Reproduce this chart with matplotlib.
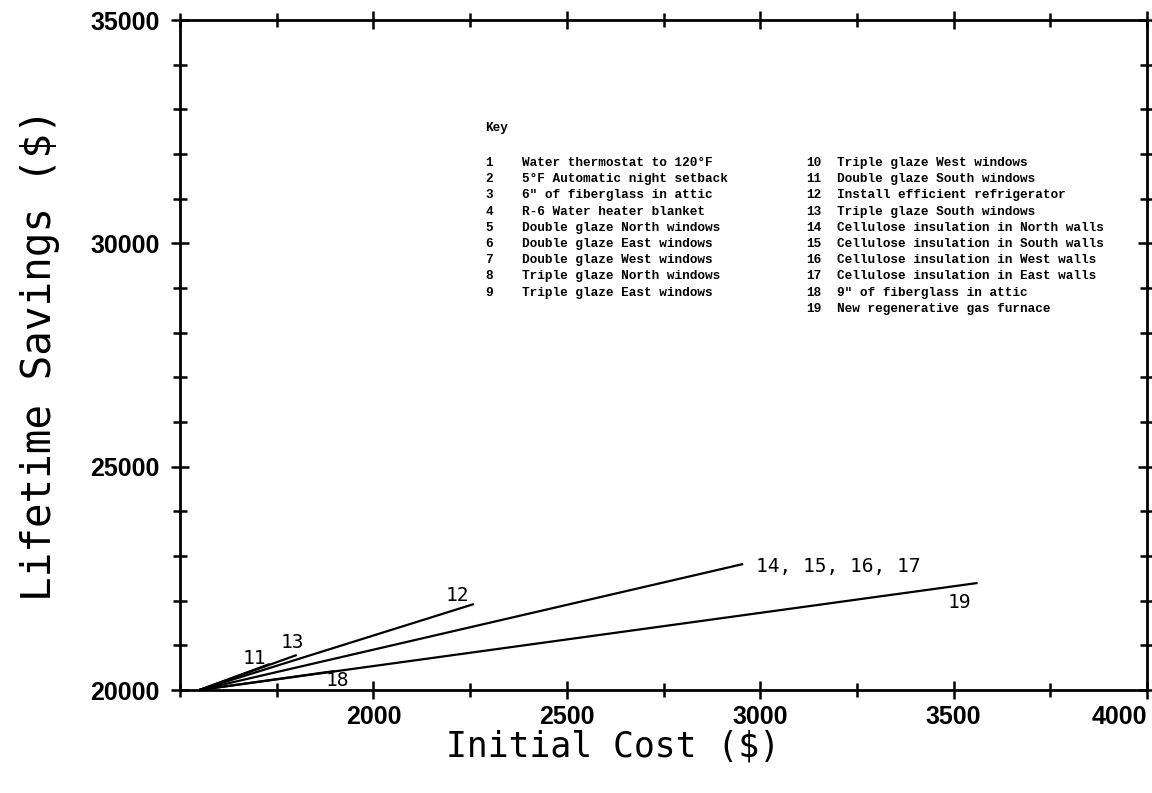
import matplotlib
matplotlib.use("Agg")
import matplotlib.pyplot as plt
from matplotlib.ticker import MultipleLocator

# common starting point (measures 1-10 combined)
base_cost = 1550
base_savings = 20000

# end points of each measure
labels = ["11", "13", "12", "14, 15, 16, 17", "18", "19"]
end_cost = [1732, 1802, 2260, 2956, 1900, 3562]
end_savings = [20582, 20784, 21925, 22821, 20425, 22396]

# label offsets from the line end (points) and alignment
label_offsets = [(-11, 4), (-3, 9), (-12, 6), (9, -2), (2, -7), (-13, -14)]
label_ha = ["center", "center", "center", "left", "center", "center"]

key_left = [
    "Water thermostat to 120°F",
    "5°F Automatic night setback",
    "6\" of fiberglass in attic",
    "R-6 Water heater blanket",
    "Double glaze North windows",
    "Double glaze East windows",
    "Double glaze West windows",
    "Triple glaze North windows",
    "Triple glaze East windows",
]
key_right = [
    "Triple glaze West windows",
    "Double glaze South windows",
    "Install efficient refrigerator",
    "Triple glaze South windows",
    "Cellulose insulation in North walls",
    "Cellulose insulation in South walls",
    "Cellulose insulation in West walls",
    "Cellulose insulation in East walls",
    "9\" of fiberglass in attic",
    "New regenerative gas furnace",
]

W, H = 1152, 793
fig = plt.figure(figsize=(W / 100, H / 100), dpi=100)
ax = fig.add_axes([180 / W, 1 - 690 / H, (1147 - 180) / W, (690 - 20) / H])

for c, s in zip(end_cost, end_savings):
    ax.plot([base_cost, c], [base_savings, s], color="black", lw=1.6,
            solid_capstyle="butt")

lab_font = dict(family=["DejaVu Sans Mono"], size=14)
for lab, c, s, off, ha in zip(labels, end_cost, end_savings, label_offsets, label_ha):
    ax.annotate(lab, (c, s), xytext=off, textcoords="offset points",
                ha=ha, va="center", **lab_font)

ax.set_xlim(1500, 4000)
ax.set_ylim(20000, 35000)
ax.xaxis.set_major_locator(MultipleLocator(500))
ax.xaxis.set_minor_locator(MultipleLocator(250))
ax.yaxis.set_major_locator(MultipleLocator(5000))
ax.yaxis.set_minor_locator(MultipleLocator(1000))

for sp in ax.spines.values():
    sp.set_linewidth(2)

ax.tick_params(which="both", direction="inout", top=True, right=True,
               width=1.8, labelsize=16)
ax.tick_params(which="major", length=13, pad=4)
ax.tick_params(axis="y", which="major", pad=8)
ax.tick_params(which="minor", length=10)

tick_font = ["Liberation Sans Narrow", "Liberation Sans", "DejaVu Sans"]
xt = [2000, 2500, 3000, 3500, 4000]
ax.set_xticks(xt)
ax.set_xticklabels([str(v) for v in xt])
yt = [20000, 25000, 30000, 35000]
ax.set_yticks(yt)
ax.set_yticklabels([str(v) for v in yt])
for t in ax.get_xticklabels() + ax.get_yticklabels():
    t.set_family(tick_font)
    t.set_fontweight("bold")
    t.set_fontsize(18)
ax.get_xticklabels()[-1].set_horizontalalignment("right")

ax.set_xlabel("Initial Cost ($)", family=["DejaVu Sans Mono"], fontsize=25,
              va="center")
ax.xaxis.set_label_coords((613 - 180) / (1147 - 180), -(747 - 690) / (690 - 20))
ax.set_ylabel("Lifetime Savings ($)", family=["DejaVu Sans Mono"], fontsize=29.5,
              va="center")
ax.yaxis.set_label_coords(-(180 - 40) / (1147 - 180), 0.5)

# key
key_font = dict(family=["Liberation Mono", "DejaVu Sans Mono"],
                fontweight="bold", fontsize=9.2, va="center")
fig.text(485 / W, 1 - 128 / H, "Key", ha="left", **key_font)
row = 16.2
for i, txt in enumerate(key_left):
    y = 1 - (163 + i * row) / H
    fig.text(485 / W, y, str(i + 1), ha="left", **key_font)
    fig.text(522 / W, y, txt, ha="left", **key_font)
for i, txt in enumerate(key_right):
    y = 1 - (163 + i * row) / H
    fig.text(806 / W, y, str(i + 10), ha="left", **key_font)
    fig.text(837 / W, y, txt, ha="left", **key_font)

fig.savefig("out.png", dpi=100)
